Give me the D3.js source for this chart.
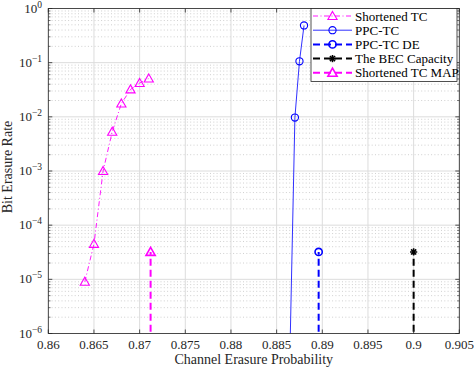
<!DOCTYPE html>
<html>
<head>
<meta charset="utf-8">
<script src="https://cdn.jsdelivr.net/npm/d3@7"></script>
<style>
  html, body { margin: 0; padding: 0; background: #ffffff; }
  svg { display: block; font-family: 'Liberation Serif', 'DejaVu Serif', serif; }
</style>
</head>
<body>
<div id="content"></div>
<script>
// Datos
const shortTcEps = [0.864, 0.865, 0.866, 0.867, 0.868, 0.869, 0.870, 0.871];
const shortTcBer = [9e-6, 4.5e-5, 1e-3, 5.3e-3, 1.76e-2, 3.2e-2, 4.2e-2, 5.1e-2];

const ppcTcEps = [0.886, 0.887, 0.8875, 0.888];
const ppcTcBer = [1e-10, 9.7e-3, 0.106, 0.486];

// Umbrales (lineas verticales discontinuas)
const thresholdNames = ['PPC-TC DE', 'The BEC Capacity', 'Shortened TC MAP'];
const thresholdEps = [0.8896, 0.9, 0.8712];
const thresholdBer = [3.2e-5, 3.2e-5, 3.2e-5];
const thresholdLow = 1e-8;

const xTicks = [0.86, 0.865, 0.87, 0.875, 0.88, 0.885, 0.89, 0.895, 0.9, 0.905];
const xTickLabels = ['0.86', '0.865', '0.87', '0.875', '0.88', '0.885', '0.89', '0.895', '0.9', '0.905'];
const yExponents = [0, -1, -2, -3, -4, -5, -6];

const legendNames = ['Shortened TC', 'PPC-TC', 'PPC-TC DE', 'The BEC Capacity', 'Shortened TC MAP'];

document.addEventListener('DOMContentLoaded', () => {
    drawSVG();
});

const drawSVG = () => {
    const width = 474;
    const height = 369;
    const left = 48.3, right = 459.3, top = 8.5, bottom = 333.5;

    const svg = d3.select('#content')
                  .append('svg')
                  .attr('width', width)
                  .attr('height', height);

    const x = d3.scaleLinear().domain([0.86, 0.905]).range([left, right]);
    const y = d3.scaleLog().domain([1e-6, 1]).range([bottom, top]);

    svg.append('defs').append('clipPath')
       .attr('id', 'plot-clip')
       .append('rect')
       .attr('x', left).attr('y', top)
       .attr('width', right - left).attr('height', bottom - top);

    // Rejilla menor (punteada) en el eje y
    const minorVals = [];
    for (let e = -6; e < 0; e++) {
        for (let m = 2; m <= 9; m++) minorVals.push(m * Math.pow(10, e));
    }
    const grid = svg.append('g').attr('class', 'grid');
    grid.selectAll('.minor')
        .data(minorVals)
        .enter()
        .append('line')
        .attr('x1', left).attr('x2', right)
        .attr('y1', d => y(d)).attr('y2', d => y(d))
        .attr('stroke', '#c4c4c4')
        .attr('stroke-width', 0.8)
        .attr('stroke-dasharray', '1,2.3');

    // Rejilla mayor
    grid.selectAll('.major-y')
        .data(yExponents)
        .enter()
        .append('line')
        .attr('x1', left).attr('x2', right)
        .attr('y1', d => y(Math.pow(10, d))).attr('y2', d => y(Math.pow(10, d)))
        .attr('stroke', '#dcdcdc')
        .attr('stroke-width', 1);
    grid.selectAll('.major-x')
        .data(xTicks)
        .enter()
        .append('line')
        .attr('x1', d => x(d)).attr('x2', d => x(d))
        .attr('y1', top).attr('y2', bottom)
        .attr('stroke', '#dcdcdc')
        .attr('stroke-width', 1);

    // Curvas
    const plot = svg.append('g').attr('clip-path', 'url(#plot-clip)');
    const line = d3.line().x(d => x(d[0])).y(d => y(d[1]));

    const shortData = shortTcEps.map((e, i) => [e, shortTcBer[i]]);
    const ppcData = ppcTcEps.map((e, i) => [e, ppcTcBer[i]]);

    plot.append('path')
        .datum(shortData)
        .attr('d', line)
        .attr('fill', 'none')
        .attr('stroke', '#ff00ff')
        .attr('stroke-width', 0.9)
        .attr('stroke-dasharray', '5,2.5,1,2.5');

    plot.append('path')
        .datum(ppcData)
        .attr('d', line)
        .attr('fill', 'none')
        .attr('stroke', '#1a1aff')
        .attr('stroke-width', 0.9);

    const thrColors = ['#0000ff', '#000000', '#ff00ff'];
    const thrMarkers = ['circle', 'star', 'triangle'];
    thresholdEps.forEach((e, i) => {
        plot.append('path')
            .datum([[e, thresholdLow], [e, thresholdBer[i]]])
            .attr('d', line)
            .attr('fill', 'none')
            .attr('stroke', thrColors[i])
            .attr('stroke-width', 2)
            .attr('stroke-dasharray', '7,4');
    });

    // Marcadores
    const triangle = (g, cx, cy, color, sw) => {
        const s = 4.6;
        g.append('path')
         .attr('d', `M${cx},${cy - s} L${cx + s},${cy + s * 0.75} L${cx - s},${cy + s * 0.75} Z`)
         .attr('fill', 'none')
         .attr('stroke', color)
         .attr('stroke-width', sw);
    };
    const circle = (g, cx, cy, color, sw) => {
        g.append('circle')
         .attr('cx', cx).attr('cy', cy).attr('r', 3.6)
         .attr('fill', 'none')
         .attr('stroke', color)
         .attr('stroke-width', sw);
    };
    const star = (g, cx, cy, color, sw) => {
        const s = 3.6;
        [0, 45, 90, 135].forEach(a => {
            const r = a * Math.PI / 180;
            g.append('line')
             .attr('x1', cx - s * Math.cos(r)).attr('y1', cy - s * Math.sin(r))
             .attr('x2', cx + s * Math.cos(r)).attr('y2', cy + s * Math.sin(r))
             .attr('stroke', color)
             .attr('stroke-width', sw);
        });
    };
    const markerFns = { triangle: triangle, circle: circle, star: star };

    shortData.forEach(d => triangle(plot, x(d[0]), y(d[1]), '#ff00ff', 1.1));
    ppcData.forEach(d => circle(plot, x(d[0]), y(d[1]), '#0000ff', 1.1));
    thresholdEps.forEach((e, i) => markerFns[thrMarkers[i]](plot, x(e), y(thresholdBer[i]), thrColors[i], 1.6));

    // Ejes (caja)
    const axisColor = '#262626';
    const box = svg.append('g');
    box.append('rect')
       .attr('x', left).attr('y', top)
       .attr('width', right - left).attr('height', bottom - top)
       .attr('fill', 'none')
       .attr('stroke', axisColor)
       .attr('stroke-width', 0.8);

    // Marcas del eje x (abajo y arriba)
    xTicks.forEach(t => {
        box.append('line').attr('x1', x(t)).attr('x2', x(t)).attr('y1', bottom).attr('y2', bottom - 4)
           .attr('stroke', axisColor).attr('stroke-width', 0.8);
        box.append('line').attr('x1', x(t)).attr('x2', x(t)).attr('y1', top).attr('y2', top + 4)
           .attr('stroke', axisColor).attr('stroke-width', 0.8);
    });
    // Marcas del eje y
    yExponents.forEach(e => {
        const yy = y(Math.pow(10, e));
        box.append('line').attr('x1', left).attr('x2', left + 4).attr('y1', yy).attr('y2', yy)
           .attr('stroke', axisColor).attr('stroke-width', 0.8);
        box.append('line').attr('x1', right).attr('x2', right - 4).attr('y1', yy).attr('y2', yy)
           .attr('stroke', axisColor).attr('stroke-width', 0.8);
    });
    minorVals.forEach(v => {
        const yy = y(v);
        box.append('line').attr('x1', left).attr('x2', left + 2.2).attr('y1', yy).attr('y2', yy)
           .attr('stroke', axisColor).attr('stroke-width', 0.6);
        box.append('line').attr('x1', right).attr('x2', right - 2.2).attr('y1', yy).attr('y2', yy)
           .attr('stroke', axisColor).attr('stroke-width', 0.6);
    });

    // Etiquetas de marcas
    svg.append('g')
       .selectAll('text')
       .data(xTicks)
       .enter()
       .append('text')
       .attr('x', d => x(d))
       .attr('y', 349)
       .attr('text-anchor', 'middle')
       .attr('fill', '#262626')
       .style('font-size', '13px')
       .text((d, i) => xTickLabels[i]);

    const yLabels = svg.append('g')
                       .selectAll('text')
                       .data(yExponents)
                       .enter()
                       .append('text')
                       .attr('x', 42)
                       .attr('y', d => y(Math.pow(10, d)) + 4)
                       .attr('text-anchor', 'end')
                       .attr('fill', '#262626')
                       .style('font-size', '13px');
    yLabels.append('tspan').text('10');
    yLabels.append('tspan')
           .attr('dy', -5)
           .style('font-size', '9.5px')
           .text(d => d === 0 ? '0' : '\u2212' + Math.abs(d));

    // Titulos de ejes
    svg.append('text')
       .attr('x', (left + right) / 2)
       .attr('y', 364)
       .attr('text-anchor', 'middle')
       .attr('fill', '#262626')
       .style('font-size', '14px')
       .text('Channel Erasure Probability');

    svg.append('text')
       .attr('transform', `translate(12, ${(top + bottom) / 2 - 4}) rotate(-90)`)
       .attr('text-anchor', 'middle')
       .attr('fill', '#262626')
       .style('font-size', '14px')
       .text('Bit Erasure Rate');

    // Leyenda
    const lg = svg.append('g');
    lg.append('rect')
      .attr('x', 311).attr('y', top)
      .attr('width', 146).attr('height', 73)
      .attr('fill', '#ffffff')
      .attr('stroke', axisColor)
      .attr('stroke-width', 0.8);

    const legendColors = ['#ff00ff', '#1a1aff', '#0000ff', '#000000', '#ff00ff'];
    const legendDash = ['5,2.5,1,2.5', null, '7,4', '7,4', '7,4'];
    const legendWidth = [0.9, 0.9, 2, 2, 2];
    const legendMarker = ['triangle', 'circle', 'circle', 'star', 'triangle'];
    legendNames.forEach((name, i) => {
        const ly = 16 + i * 14.2;
        lg.append('line')
          .attr('x1', 313).attr('x2', 352)
          .attr('y1', ly).attr('y2', ly)
          .attr('stroke', legendColors[i])
          .attr('stroke-width', legendWidth[i])
          .attr('stroke-dasharray', legendDash[i]);
        markerFns[legendMarker[i]](lg, 332.5, ly, legendColors[i] === '#1a1aff' ? '#0000ff' : legendColors[i], i < 2 ? 1.1 : 1.6);
        lg.append('text')
          .attr('x', 355)
          .attr('y', ly + 4.5)
          .attr('fill', '#000000')
          .style('font-size', '13px')
          .text(name);
    });
};
</script>
</body>
</html>
